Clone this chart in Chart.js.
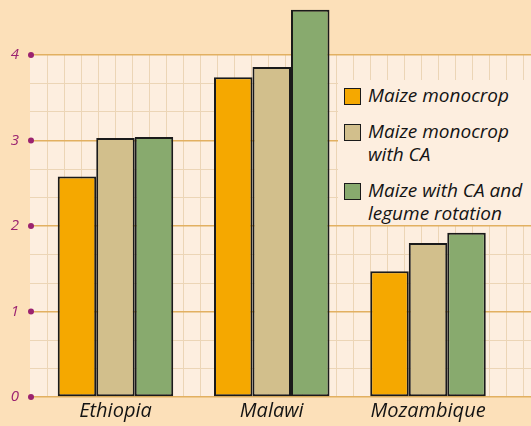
<!DOCTYPE html>
<html>
<head>
<meta charset="utf-8">
<script src="https://cdn.jsdelivr.net/npm/chart.js@4.4.1/dist/chart.umd.min.js"></script>
<style>
html, body { margin: 0; padding: 0; background: #fce0b9; }
#wrap { position: relative; width: 531px; height: 426px; }
#legend {
    position: absolute; left: 338px; top: 80px; width: 193px; height: 145px;
    background: #fdeedf; box-sizing: border-box; padding: 4px 0 0 6px;
    font-family: "Open Sans", sans-serif; font-style: italic; font-size: 19px;
    line-height: 23px; color: #141414; white-space: nowrap; overflow: hidden;
}
.item { display: flex; align-items: flex-start; margin-bottom: 13px; }
.swatch { width: 15px; height: 15px; border: 1.5px solid #1a1a1a; margin: 4px 7px 0 0; flex: none; }
</style>
</head>
<body>
<div id="wrap">
    <canvas id="chart" width="531" height="426"></canvas>
    <div id="legend"></div>
</div>
<script>
/* datos del gráfico */
const categories = ['Ethiopia', 'Malawi', 'Mozambique'];
const seriesNames = ['Maize monocrop', 'Maize monocrop with CA', 'Maize with CA and legume rotation'];
const legendLines = [['Maize monocrop'], ['Maize monocrop', 'with CA'], ['Maize with CA and', 'legume rotation']];
const monocrop = [2.58, 3.74, 1.47];
const monocropCA = [3.03, 3.86, 1.80];
const rotationCA = [3.04, 4.53, 1.92];
const yTicks = [0, 1, 2, 3, 4];
const colors = ['#f5a800', '#d2bf8c', '#88aa6e'];

const handFont = '"Open Sans", sans-serif';
const purple = '#9b2370';

// papel cuadriculado detrás de las barras
const paper = {
    id: 'paper',
    beforeDraw(chart) {
        const c = chart.ctx, a = chart.chartArea;
        c.save();
        c.fillStyle = '#fce0b9';
        c.fillRect(0, 0, chart.width, chart.height);
        c.fillStyle = '#fdeedf';
        c.fillRect(a.left, a.top, a.right - a.left, a.bottom - a.top);
        c.strokeStyle = '#ecd5b6';
        c.lineWidth = 1;
        for (let x = a.left + 17; x < a.right; x += 17) {
            c.beginPath();
            c.moveTo(Math.round(x) + 0.5, a.top);
            c.lineTo(Math.round(x) + 0.5, a.bottom);
            c.stroke();
        }
        c.restore();
    }
};

// puntitos morados en cada marca del eje y
const dots = {
    id: 'dots',
    afterDraw(chart) {
        const c = chart.ctx, y = chart.scales.y;
        c.save();
        c.fillStyle = purple;
        for (const v of yTicks) {
            c.beginPath();
            c.arc(chart.chartArea.left + 1, y.getPixelForValue(v), 3, 0, Math.PI * 2);
            c.fill();
        }
        c.restore();
    }
};

const isMajor = v => Math.abs(v - Math.round(v)) < 1e-6;

const ctx = document.getElementById('chart');
new Chart(ctx, {
    type: 'bar',
    data: {
        datasets: [monocrop, monocropCA, rotationCA].map((serie, i) => ({
            label: seriesNames[i],
            data: serie.map((v, j) => ({ x: j, y: v })),
            backgroundColor: colors[i],
            borderColor: '#1a1a1a',
            borderWidth: 2,
            borderSkipped: false,
            clip: false
        }))
    },
    options: {
        responsive: false,
        animation: false,
        barPercentage: 1,
        categoryPercentage: 0.739,
        layout: { padding: { top: 55, right: 0, bottom: 0, left: 0 } },
        scales: {
            x: {
                type: 'linear',
                offset: false,
                min: -0.547,
                max: 2.659,
                afterBuildTicks: s => { s.ticks = categories.map((c, i) => ({ value: i })); },
                afterFit: s => { s.height = 29; },
                grid: { display: false, drawTicks: false },
                border: { display: false },
                ticks: {
                    callback: v => categories[v],
                    color: '#141414',
                    padding: 2,
                    maxRotation: 0,
                    font: { family: handFont, size: 20, style: 'italic' }
                }
            },
            y: {
                min: 0,
                max: 4,
                afterBuildTicks: s => {
                    const t = [];
                    for (let k = 0; k <= yTicks[yTicks.length - 1] * 3; k++) t.push({ value: k / 3 });
                    s.ticks = t;
                },
                afterFit: s => { s.width = 30; },
                border: { display: false },
                grid: {
                    drawTicks: false,
                    color: c => isMajor(c.tick.value) ? '#e2b061' : '#ecd5b6',
                    lineWidth: c => isMajor(c.tick.value) ? 1.5 : 1
                },
                ticks: {
                    callback: v => isMajor(v) ? String(Math.round(v)) : '',
                    color: purple,
                    padding: 11,
                    font: { family: handFont, size: 15, style: 'italic' }
                }
            }
        },
        plugins: {
            legend: { display: false },
            tooltip: { enabled: false }
        }
    },
    plugins: [paper, dots]
});

// leyenda dentro del área del gráfico
const legend = document.getElementById('legend');
legendLines.forEach((lines, i) => {
    const item = document.createElement('div');
    item.className = 'item';
    const sw = document.createElement('span');
    sw.className = 'swatch';
    sw.style.background = colors[i];
    const txt = document.createElement('span');
    txt.innerHTML = lines.join('<br>');
    item.appendChild(sw);
    item.appendChild(txt);
    legend.appendChild(item);
});
</script>
</body>
</html>
